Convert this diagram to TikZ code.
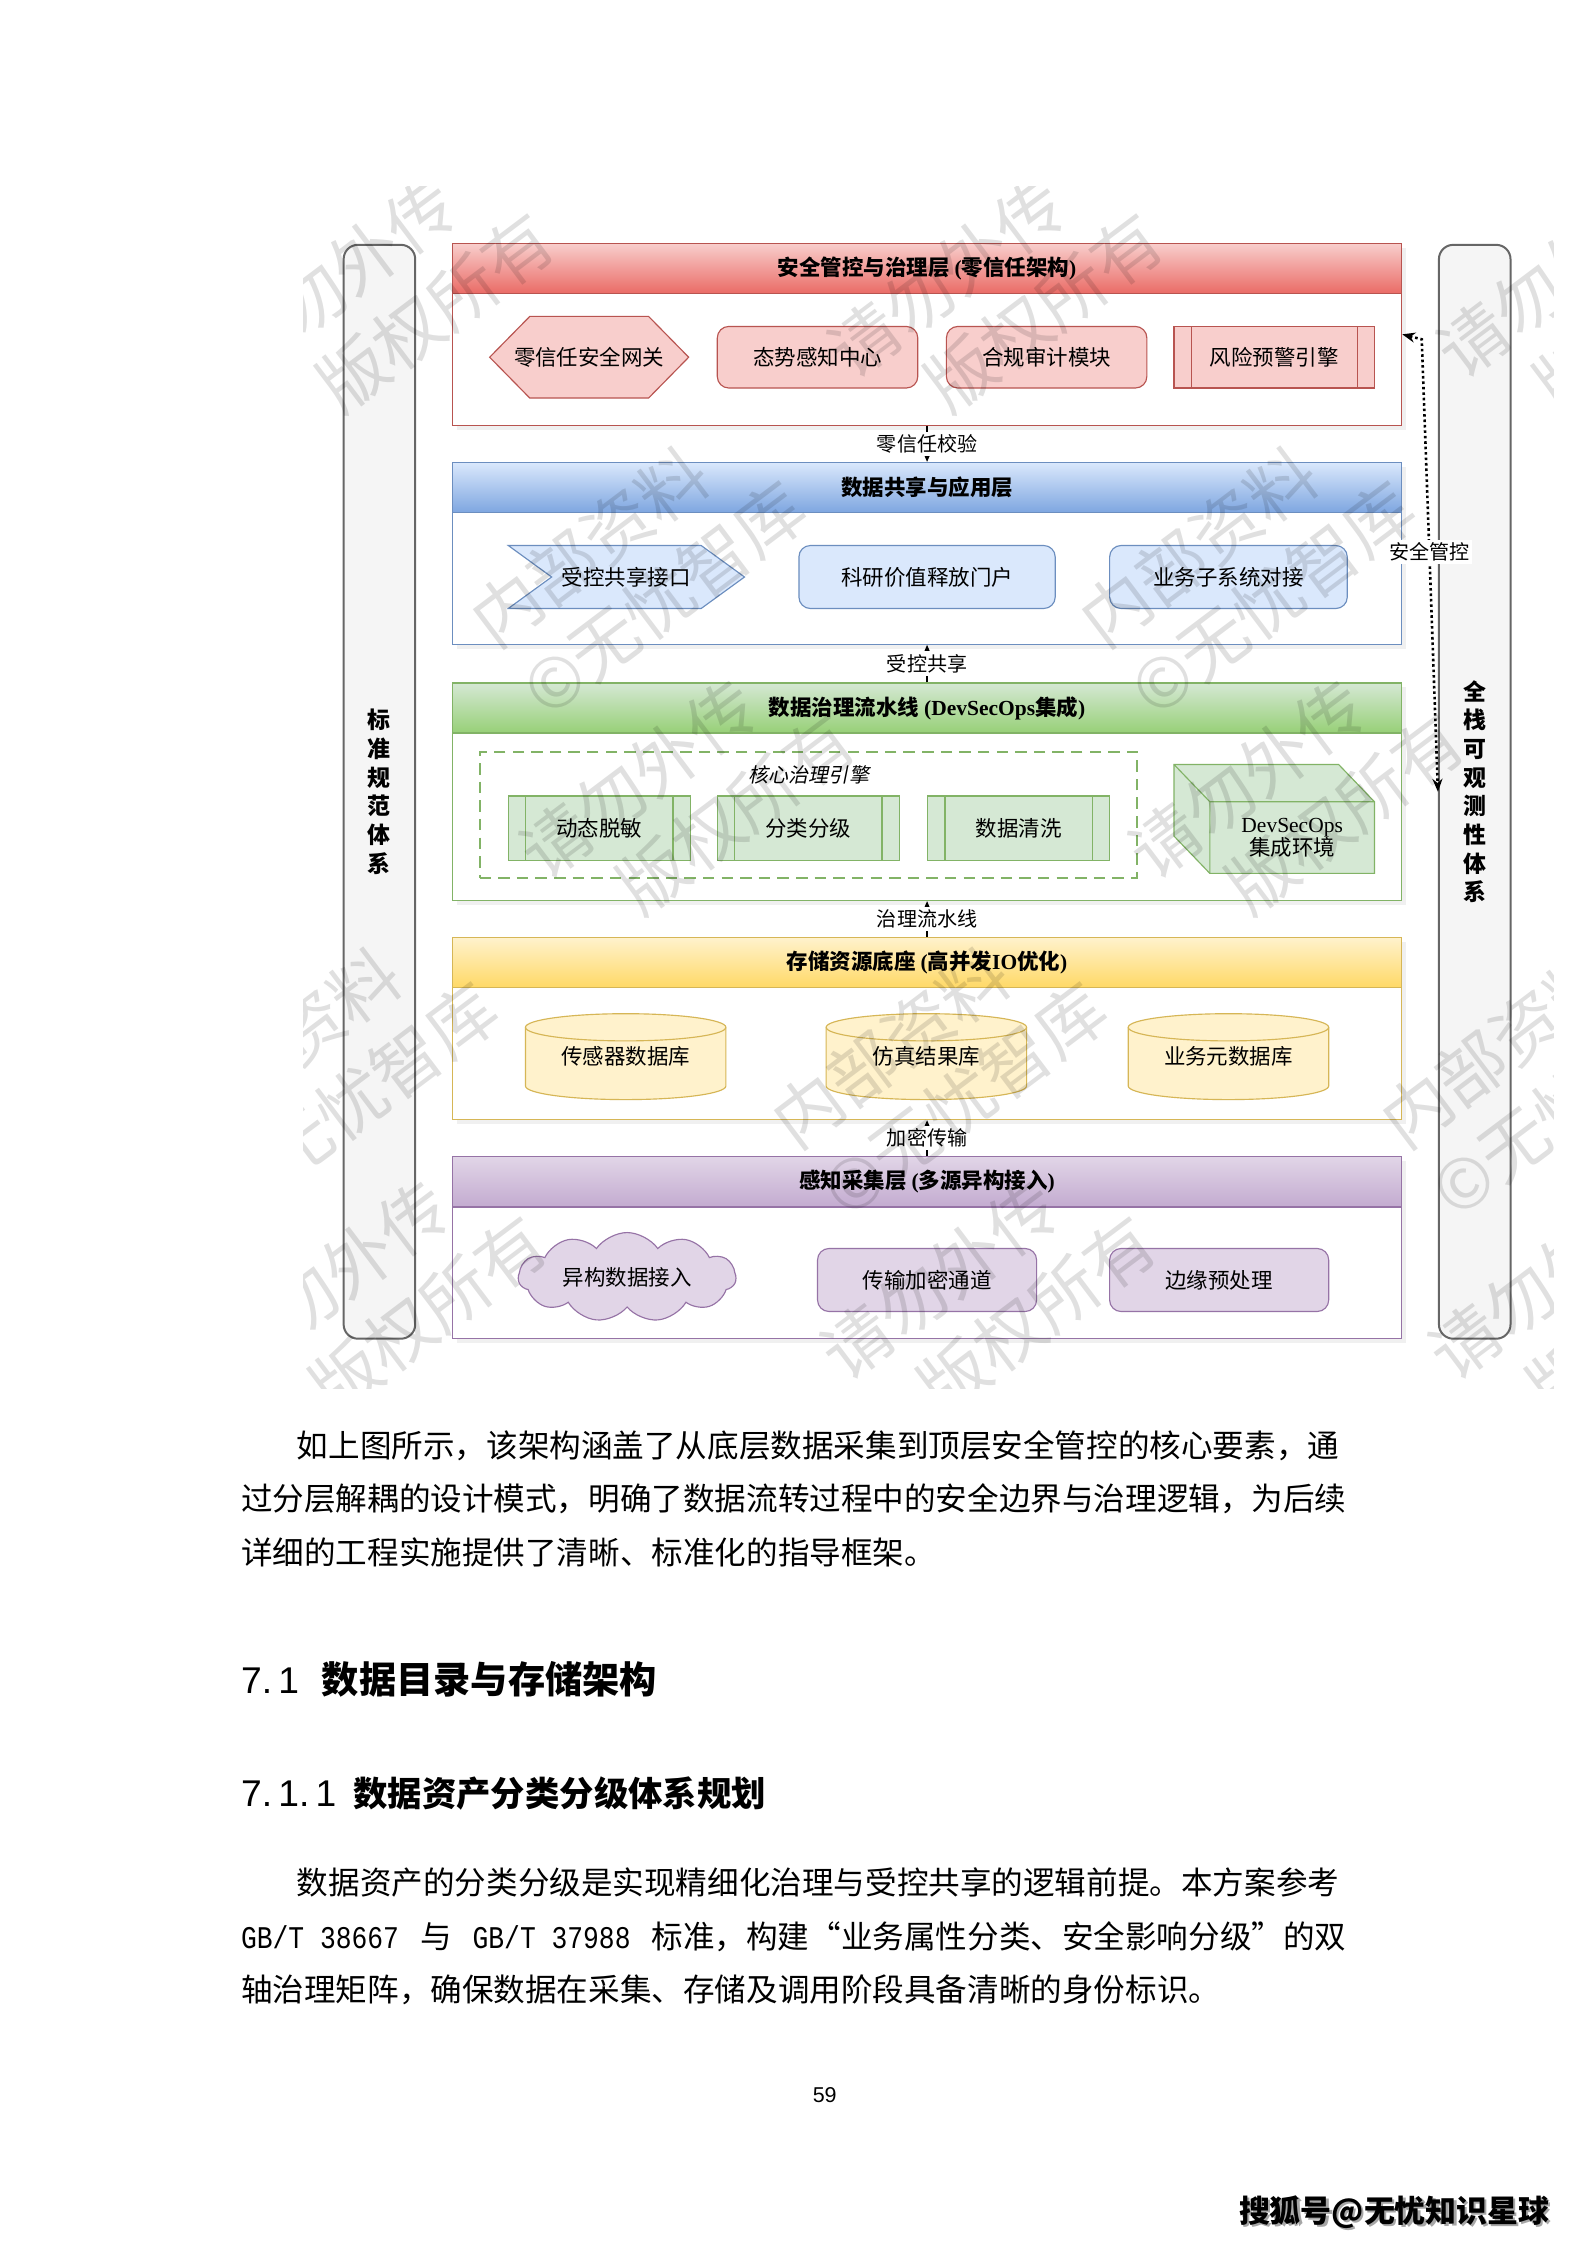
\documentclass[tikz,border=0pt]{standalone}
\usepackage{fontspec}
\setmainfont{Noto Sans CJK SC}
\newfontfamily\latserif{Liberation Serif}
\newfontfamily\latsans{Liberation Sans}
\newfontfamily\halfmono[FakeStretch=0.8333]{Liberation Mono}
\newfontfamily\cjkslant[FakeSlant=0.2]{Noto Sans CJK SC}
\newcommand\lat[1]{{\latserif #1}}
\usetikzlibrary{shapes.symbols,arrows.meta,positioning,shadows}

\definecolor{redfill}{HTML}{F8CECC}\definecolor{redgrad}{HTML}{EA6B66}\definecolor{redline}{HTML}{B85450}
\definecolor{bluefill}{HTML}{DAE8FC}\definecolor{bluegrad}{HTML}{7EA6E0}\definecolor{blueline}{HTML}{6C8EBF}
\definecolor{greenfill}{HTML}{D5E8D4}\definecolor{greengrad}{HTML}{97D077}\definecolor{greenline}{HTML}{82B366}
\definecolor{yellowfill}{HTML}{FFF2CC}\definecolor{yellowgrad}{HTML}{FFD966}\definecolor{yellowline}{HTML}{D6B656}
\definecolor{purplefill}{HTML}{E1D5E7}\definecolor{purplegrad}{HTML}{C3ABD0}\definecolor{purpleline}{HTML}{9673A6}

\begin{document}
\begin{tikzpicture}[
    x=0.5pt, y=-0.5pt,
    layerbody/.style={draw=#1line, fill=white, minimum width=331.5pt, inner sep=0pt,
        drop shadow={opacity=0.12, shadow xshift=1.5pt, shadow yshift=-1.5pt}},
    layerhead/.style={draw=#1line, top color=#1fill, bottom color=#1grad, minimum width=331.5pt,
        minimum height=17.5pt, inner sep=0pt, anchor=north, font=\bfseries\fontsize{7.5}{9}\selectfont},
    item/.style={draw=#1line, fill=#1fill, rounded corners=4pt, minimum height=21.5pt, inner sep=0pt,
        font=\fontsize{7.5}{9}\selectfont},
    procbox/.style={draw=#1line, fill=#1fill, minimum height=22.5pt, inner sep=0pt, font=\fontsize{7.5}{9}\selectfont,
        path picture={\draw[#1line] ([xshift=6pt]path picture bounding box.north west) -- ([xshift=6pt]path picture bounding box.south west)
            ([xshift=-6pt]path picture bounding box.north east) -- ([xshift=-6pt]path picture bounding box.south east);}},
    plain/.style={inner sep=0pt, font=\fontsize{7.5}{9}\selectfont},
    sidebar/.style={draw=black!60, fill=black!4, line width=0.7pt, rounded corners=5pt, minimum width=25pt,
        minimum height=382pt, align=center, font=\bfseries\fontsize{8}{10}\selectfont},
    flow/.style={-{Stealth[length=3.5pt,width=3pt]}, line width=0.5pt},
    ctrl/.style={{Stealth[length=4.5pt,width=3.5pt]}-{Stealth[length=4.5pt,width=3.5pt]}, densely dotted, line width=0.9pt},
    lbl/.style={fill=white, inner sep=1pt, font=\fontsize{7}{8}\selectfont},
    bodytext/.style={anchor=west, inner sep=0pt, font=\fontsize{11.03}{13}\selectfont},
    headtext/.style={anchor=west, inner sep=0pt, font=\bfseries\fontsize{13}{15}\selectfont},
    wmark/.style={rotate=37, anchor=west, inner sep=0pt, text=black, text opacity=0.12,
        font=\fontsize{24}{24}\selectfont}
]
\useasboundingbox (0,0) rectangle (1108,1568);

% side bars
\node[sidebar] (stdbar) at (265,553) {标\\准\\规\\范\\体\\系};
\node[sidebar] (obsbar) at (1030,553) {全\\栈\\可\\观\\测\\性\\体\\系};

% layers
\node[layerbody=red, minimum height=63.5pt] (safety) at (647.5,233.5) {};
\node[layerhead=red] (safetyhead) at (safety.north) {安全管控与治理层 \lat{(}零信任架构\lat{)}};
\node[layerbody=blue, minimum height=63.5pt] (share) at (647.5,386.5) {};
\node[layerhead=blue] (sharehead) at (share.north) {数据共享与应用层};
\node[layerbody=green, minimum height=76pt] (pipeline) at (647.5,553) {};
\node[layerhead=green] (pipelinehead) at (pipeline.north) {数据治理流水线 \lat{(DevSecOps}集成\lat{)}};
\node[layerbody=yellow, minimum height=63.5pt] (storage) at (647.5,718.5) {};
\node[layerhead=yellow] (storagehead) at (storage.north) {存储资源底座 \lat{(}高并发\lat{IO}优化\lat{)}};
\node[layerbody=purple, minimum height=63.5pt] (sensing) at (647.5,871.5) {};
\node[layerhead=purple] (sensinghead) at (sensing.north) {感知采集层 \lat{(}多源异构接入\lat{)}};

% security layer
\draw[draw=redline, fill=redfill] (342,249.5) -- (370,221) -- (453,221) -- (481,249.5) -- (453,278) -- (370,278) -- cycle;
\node[plain] (gateway) at (411.5,249.5) {零信任安全网关};
\node[item=red, minimum width=70pt] (situation) at (571,249.5) {态势感知中心};
\node[item=red, minimum width=70pt] (audit) at (731,249.5) {合规审计模块};
\node[procbox=red, minimum width=70pt, minimum height=21.5pt] (riskeng) at (890,249.5) {风险预警引擎};

% sharing layer
\node[signal, signal from=west, signal to=east, signal pointer angle=72, draw=blueline, fill=bluefill, plain,
    minimum width=82.5pt, minimum height=22pt] (sharegate) at (437.5,403) {受控共享接口};
\node[item=blue, minimum width=89.5pt, minimum height=22pt] (portal) at (647.5,403) {科研价值释放门户};
\node[item=blue, minimum width=83pt, minimum height=22pt] (subsys) at (858,403) {业务子系统对接};

% governance pipeline
\node[draw=greenline, dash pattern=on 4pt off 2.5pt, line width=0.7pt, minimum width=229.5pt,
    minimum height=44pt] (engine) at (564.5,569) {};
\node[plain, font=\cjkslant\fontsize{7}{8}\selectfont] (enginelabel) at (565,541) {核心治理引擎};
\node[procbox=green, minimum width=63.5pt] (masking) at (418.5,578.5) {动态脱敏};
\node[procbox=green, minimum width=63.5pt] (classify) at (564.5,578.5) {分类分级};
\node[procbox=green, minimum width=63.5pt] (cleanse) at (711.5,578.5) {数据清洗};
\draw[draw=greenline, fill=greenfill] (820,534) -- (935,534) -- (960,560) -- (960,610) -- (845,610) -- (820,584) -- cycle;
\draw[greenline] (820,534) -- (845,560) -- (960,560) (845,560) -- (845,610);
\node[plain, align=center] (devenv) at (902.5,585) {\lat{DevSecOps}\\[-1pt]集成环境};

% storage
\foreach \cx/\nm/\txt in {437/sensordb/传感器数据库, 647/simdb/仿真结果库, 858/metadb/业务元数据库} {
  \draw[draw=yellowline, fill=yellowfill] (\cx-70,717.5) -- (\cx-70,758.5)
      arc[start angle=180, end angle=0, x radius=70, y radius=9.5] -- (\cx+70,717.5)
      arc[start angle=0, end angle=-180, x radius=70, y radius=9.5] -- cycle;
  \draw[yellowline] (\cx-70,717.5) arc[start angle=180, end angle=0, x radius=70, y radius=9.5];
  \node[plain] (\nm) at (\cx,738) {\txt};
}

% sensing
\node[cloud, cloud puffs=11, cloud puff arc=110, aspect=2.8, draw=purpleline, fill=purplefill, plain,
    minimum width=76pt, minimum height=26pt] (hetero) at (438,892) {异构数据接入};
\node[item=purple, minimum width=76.5pt, minimum height=22pt] (tunnel) at (647.5,894) {传输加密通道};
\node[item=purple, minimum width=76.5pt, minimum height=22pt] (edgeproc) at (851.5,894) {边缘预处理};

% flows between layers
\draw[flow] (safety.south) -- (share.north) node[lbl, midway] {零信任校验};
\draw[flow] (pipeline.north) -- (share.south) node[lbl, midway] {受控共享};
\draw[flow] (storage.north) -- (pipeline.south) node[lbl, midway] {治理流水线};
\draw[flow] (sensing.north) -- (storage.south) node[lbl, midway] {加密传输};

\coordinate (ctrlbend) at (993,237);
\draw[ctrl] (safety.east) -- (ctrlbend) -- (obsbar.west) node[lbl, pos=0.47] {安全管控};

% watermark
\begin{scope}
  \clip (212,130) rectangle (1085,970);
  \foreach \i/\j in {-1/0, 0/0, 1/0, -1/1, 0/1, 1/1, -2/2, -1/2, 0/2} {
    \node[wmark] at ({335+425*\i+210*\j},{440+350*\j}) {内部资料\hspace{2.5em}请勿外传};
    \node[wmark] at ({371+425*\i+210*\j},{488+350*\j}) {©无忧智库\hspace{2.5em}版权所有};
  }
\end{scope}

% text below the figure
\node[bodytext] (para1a) at (207,1010) {如上图所示，该架构涵盖了从底层数据采集到顶层安全管控的核心要素，通};
\node[bodytext] (para1b) at (168,1047) {过分层解耦的设计模式，明确了数据流转过程中的安全边界与治理逻辑，为后续};
\node[bodytext] (para1c) at (168,1084) {详细的工程实施提供了清晰、标准化的指导框架。};

\node[headtext] (sec71) at (168,1173) {{\latsans\mdseries 7.\,1}\hspace{8pt}数据目录与存储架构};
\node[headtext, font=\bfseries\fontsize{12}{14}\selectfont] (sec711) at (168,1253) {{\latsans\mdseries\fontsize{13}{15}\selectfont 7.\,1.\,1}\hspace{6pt}数据资产分类分级体系规划};

\node[bodytext] (para2a) at (207,1315) {数据资产的分类分级是实现精细化治理与受控共享的逻辑前提。本方案参考};
\node[bodytext] (para2b) at (168,1353) {\hbox to 386pt{\halfmono GB/T 38667\hfil\rmfamily 与\hfil\halfmono GB/T 37988\hfil\rmfamily 标准，构建“业务属性分类、安全影响分级”的双}};
\node[bodytext] (para2c) at (168,1390) {轴治理矩阵，确保数据在采集、存储及调用阶段具备清晰的身份标识。};

\node[inner sep=0pt, font=\latsans\fontsize{7.5}{9}\selectfont] (pageno) at (576,1463) {59};
\node[inner sep=0pt, anchor=west, text=black!35, font=\bfseries\fontsize{10.8}{12}\selectfont] at (866.5,1546.5) {搜狐号@无忧知识星球};
\node[inner sep=0pt, anchor=west, font=\bfseries\fontsize{10.8}{12}\selectfont] (footer) at (865,1545) {搜狐号@无忧知识星球};
\end{tikzpicture}
\end{document}
